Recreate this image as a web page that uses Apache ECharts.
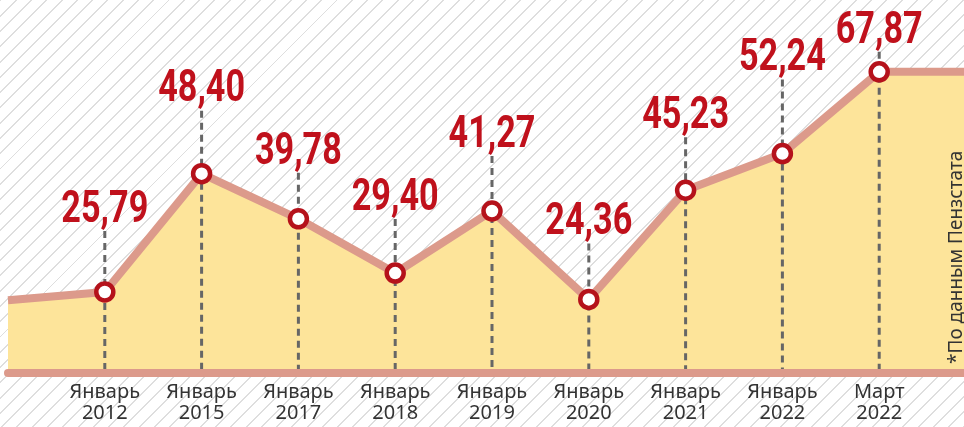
<!DOCTYPE html>
<html>
<head>
<meta charset="utf-8">
<script src="https://cdn.jsdelivr.net/npm/echarts@6/dist/echarts.min.js"></script>
<style>
html, body { margin: 0; padding: 0; }
#chart {
  width: 964px;
  height: 427px;
  background: #fff repeating-linear-gradient(135deg, #dedede 0 1.4px, transparent 1.4px 10.8px);
}
</style>
</head>
<body>
<div id="chart"></div>
<script>
// edge entries only carry the line to the picture borders
const categories = ['', 'Январь\n2012', 'Январь\n2015', 'Январь\n2017', 'Январь\n2018', 'Январь\n2019',
  'Январь\n2020', 'Январь\n2021', 'Январь\n2022', 'Март\n2022', ''];
const values = [24.2, 25.79, 48.40, 39.78, 29.40, 41.27, 24.36, 45.23, 52.24, 67.87, 67.87];
// how far (px) each value label sits above its point
const labelLift = [0, 68, 70, 53, 61, 62, 63, 60, 81, 27, 0];

const yMin = 10.3;
const yMax = 81.6;
const last = values.length - 1;

const lineColor = '#dc9a8b';
const redColor = '#c0111c';

function fmt(v) {
  return v.toFixed(2).replace('.', ',');
}

const inner = values.map((v, i) => [i, v]).filter(d => d[0] > 0 && d[0] < last);

const chart = echarts.init(document.getElementById('chart'));

const option = {
  backgroundColor: 'transparent',
  animation: false,
  grid: { left: 8, right: -12, top: 0, bottom: 54, outerBoundsMode: 'none', containLabel: false },
  xAxis: {
    type: 'category',
    data: categories,
    boundaryGap: false,
    z: 3,
    axisLine: { lineStyle: { color: lineColor, width: 8 } },
    axisTick: { show: false },
    axisLabel: {
      interval: 0,
      color: '#333',
      fontSize: 20,
      lineHeight: 21,
      fontFamily: 'Noto Sans',
      margin: 9
    },
    splitLine: { show: false }
  },
  yAxis: {
    type: 'value',
    min: yMin,
    max: yMax,
    show: false,
    splitLine: { show: false }
  },
  series: [
    {
      type: 'line',
      data: values,
      symbol: 'none',
      z: 1,
      lineStyle: { color: lineColor, width: 8, cap: 'butt', join: 'round' },
      areaStyle: { color: '#fde49a', opacity: 1 }
    },
    {
      type: 'custom',
      z: 2,
      data: inner,
      renderItem: function (params, api) {
        const i = api.value(0);
        const p = api.coord([i, api.value(1)]);
        const base = api.coord([i, yMin]);
        const labelY = p[1] - labelLift[i];
        return {
          type: 'group',
          children: [
            {
              type: 'line',
              shape: { x1: p[0], y1: labelY + 7, x2: p[0], y2: base[1] - 4 },
              style: { stroke: '#666', lineWidth: 3, lineDash: [7, 5] }
            },
            {
              type: 'text',
              x: p[0],
              y: labelY + 9,
              scaleX: 0.76,
              style: {
                text: fmt(api.value(1)),
                fill: redColor,
                font: 'bold 45px Roboto, sans-serif',
                align: 'center',
                verticalAlign: 'bottom'
              }
            }
          ]
        };
      }
    },
    {
      type: 'scatter',
      z: 4,
      data: inner,
      symbol: 'circle',
      symbolSize: 17,
      itemStyle: { color: '#fff', borderColor: '#b5121b', borderWidth: 4.5, opacity: 1 }
    }
  ],
  graphic: [
    {
      type: 'text',
      x: 957,
      y: 364,
      rotation: Math.PI / 2,
      z: 10,
      style: {
        text: '*По данным Пензстата',
        fill: '#333',
        font: '19px "Noto Sans"',
        align: 'left',
        verticalAlign: 'middle'
      }
    }
  ]
};

chart.setOption(option);
</script>
</body>
</html>
